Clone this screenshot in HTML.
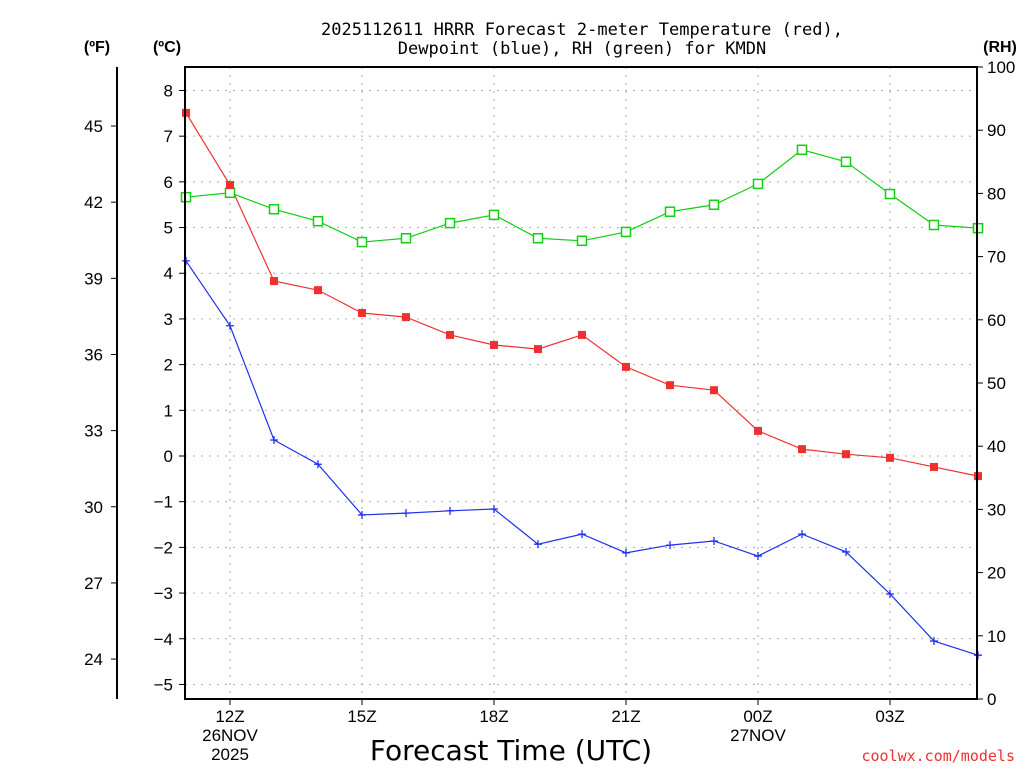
<!DOCTYPE html>
<html><head><meta charset="utf-8"><style>
body{margin:0;background:#fff;}
svg{display:block;font-family:"Liberation Sans","DejaVu Sans",sans-serif;}
</style></head><body>
<svg id="c" width="1024" height="768">
<text x="582" y="35" font-size="17" text-anchor="middle" font-family="DejaVu Sans Mono, Liberation Mono, monospace">2025112611 HRRR Forecast 2-meter Temperature (red),</text>
<text x="582" y="54" font-size="17" text-anchor="middle" font-family="DejaVu Sans Mono, Liberation Mono, monospace">Dewpoint (blue), RH (green) for KMDN</text>
<text x="97" y="52" font-size="16" font-weight="bold" text-anchor="middle">(ºF)</text>
<text x="167" y="52" font-size="16" font-weight="bold" text-anchor="middle">(ºC)</text>
<text x="1000" y="52" font-size="16" font-weight="bold" text-anchor="middle">(RH)</text>
<text x="511" y="760" font-size="28" text-anchor="middle" font-family="DejaVu Sans, sans-serif">Forecast Time (UTC)</text>
<text x="1015" y="761" font-size="15" fill="#f03030" text-anchor="end" font-family="DejaVu Sans Mono, monospace">coolwx.com/models</text>
<g id="grid"></g><g id="axes"></g><g id="series"></g>
<rect x="185" y="67" width="792" height="632" fill="none" stroke="#000" stroke-width="2"/>
</svg>
<script>
const hours=[11,12,13,14,15,16,17,18,19,20,21,22,23,24,25,26,27,28,29];
const tempC=[7.51,5.93,3.83,3.63,3.13,3.04,2.65,2.43,2.34,2.65,1.95,1.55,1.44,0.55,0.15,0.04,-0.04,-0.24,-0.44];
const dewC=[4.27,2.85,0.35,-0.18,-1.29,-1.25,-1.2,-1.16,-1.93,-1.71,-2.12,-1.95,-1.86,-2.19,-1.71,-2.1,-3.02,-4.05,-4.36];
const rh=[79.4,80.1,77.5,75.6,72.3,72.9,75.3,76.6,72.9,72.5,73.9,77.1,78.2,81.5,86.9,85,79.9,75,74.5];
const cTicks=[-5,-4,-3,-2,-1,0,1,2,3,4,5,6,7,8];
const fTicks=[24,27,30,33,36,39,42,45];
const rhTicks=[0,10,20,30,40,50,60,70,80,90,100];
const xTicks=[12,15,18,21,24,27];
const xLabels=["12Z","15Z","18Z","21Z","00Z","03Z"];
const xSub=[["26NOV","2025"],[],[],[],["27NOV"],[]];
const NS="http://www.w3.org/2000/svg";
const X=h=>185+(h-11)*(792/18)+1;
const YC=c=>456-c*45.69;
const YF=f=>YC((f-32)*5/9);
const YR=r=>699-r*6.32;
function mk(p,t,a){const e=document.createElementNS(NS,t);for(const k in a)e.setAttribute(k,a[k]);p.appendChild(e);return e;}
const G=document.getElementById('grid'),A=document.getElementById('axes'),S=document.getElementById('series');
cTicks.forEach(c=>{const y=YC(c);
const g=mk(G,'line',{x1:185,x2:977,y1:y,y2:y,stroke:'#aaa','stroke-dasharray':'2,6'});


mk(A,'line',{x1:179,x2:185,y1:y,y2:y,stroke:'#000'});
const t=mk(A,'text',{x:173,y:y+6,'font-size':17,'text-anchor':'end'});t.textContent=String(c).replace('-','−');

});
mk(A,'line',{x1:117,x2:117,y1:67,y2:699,stroke:'#000','stroke-width':2});
fTicks.forEach(f=>{const y=YF(f);mk(A,'line',{x1:111,x2:117,y1:y,y2:y,stroke:'#000'});
const t=mk(A,'text',{x:103,y:y+6,'font-size':17,'text-anchor':'end'});t.textContent=f;

});
rhTicks.forEach(r=>{const y=YR(r);mk(A,'line',{x1:977,x2:983,y1:y,y2:y,stroke:'#000'});
const t=mk(A,'text',{x:987,y:y+6,'font-size':17});t.textContent=r;

});
xTicks.forEach((h,i)=>{const x=X(h);
const g=mk(G,'line',{x1:x,x2:x,y1:67,y2:699,stroke:'#aaa','stroke-dasharray':'2,6'});


mk(A,'line',{x1:x,x2:x,y1:699,y2:705,stroke:'#000'});
const t=mk(A,'text',{x:x,y:722,'font-size':17,'text-anchor':'middle'});t.textContent=xLabels[i];


xSub[i].forEach((s,j)=>{const u=mk(A,'text',{x:x,y:741+j*19,'font-size':17,'text-anchor':'middle'});u.textContent=s;

});});
function line(vals,yf,col,name){const p=mk(S,'polyline',{points:vals.map((v,i)=>X(hours[i])+','+yf(v)).join(' '),fill:'none',stroke:col,'stroke-width':1.2});

}
line(rh,YR,'#10d010','rh-line');line(tempC,YC,'#f03030','temperature-line');line(dewC,YC,'#2030f0','dewpoint-line');
rh.forEach((v,i)=>{const m=mk(S,'rect',{x:X(hours[i])-4.5,y:YR(v)-4.5,width:9,height:9,fill:'#fff',stroke:'#10d010','stroke-width':1.5});

});
tempC.forEach((v,i)=>{const m=mk(S,'rect',{x:X(hours[i])-4,y:YC(v)-4,width:8,height:8,fill:'#f03030'});

});
dewC.forEach((v,i)=>{const x=X(hours[i]),y=YC(v);const m=mk(S,'path',{d:`M${x-4},${y}H${x+4}M${x},${y-4}V${y+4}`,stroke:'#2030f0','stroke-width':1.3});

});
</script>
</body></html>
